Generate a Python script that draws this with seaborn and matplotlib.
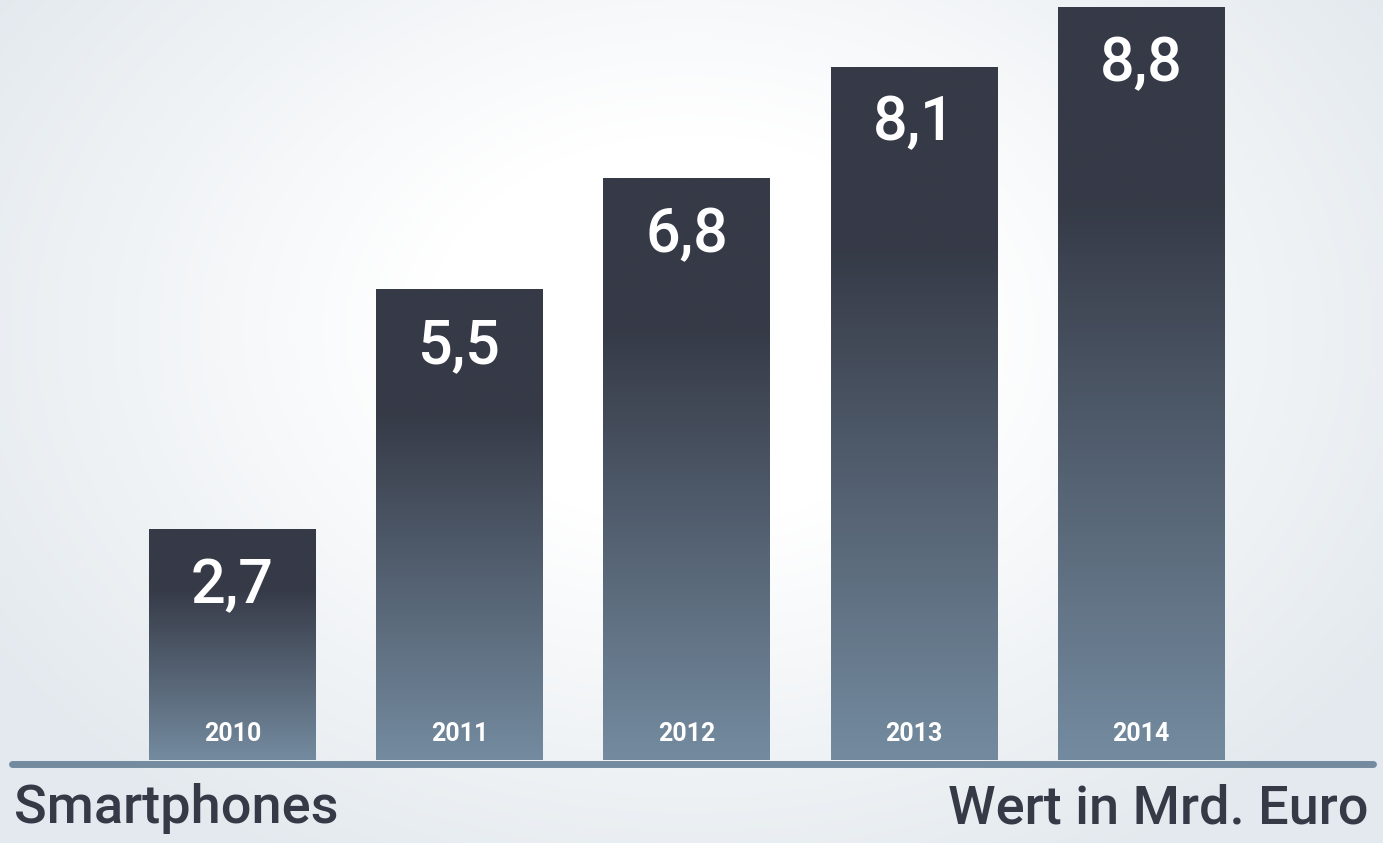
import numpy as np
import pandas as pd
import seaborn as sns
import matplotlib
matplotlib.use('Agg')
import matplotlib.pyplot as plt
from matplotlib.colors import LinearSegmentedColormap

# data
years = ["2010", "2011", "2012", "2013", "2014"]
values = [2.7, 5.5, 6.8, 8.1, 8.8]
value_labels = ["2,7", "5,5", "6,8", "8,1", "8,8"]

DARK = "#363a47"
LIGHT = "#748b9f"

sns.set_theme(style="white")
plt.rcParams['font.family'] = ['Roboto', 'DejaVu Sans']

W, H = 1383, 843
fig = plt.figure(figsize=(W / 100, H / 100), dpi=100)

# radial background
bg = fig.add_axes([0, 0, 1, 1], zorder=-5)
yy, xx = np.mgrid[0:H, 0:W]
r = np.sqrt(((xx - 690) / 760.0) ** 2 + ((yy - 330) / 560.0) ** 2)
r = np.clip((r - 0.35) / 0.75, 0, 1)
c0 = np.array([1.0, 1.0, 1.0])
c1 = np.array([0xe3, 0xe9, 0xee]) / 255
img = c0 + (c1 - c0) * r[..., None]
bg.imshow(img, extent=[0, W, H, 0], aspect='auto')
bg.set_axis_off()

# main axes
px_unit = 85.6
x0_px = 232.5
step = 227.2
bottom_px = 760
ax = fig.add_axes([0, (H - bottom_px) / H, 1, bottom_px / H])
ax.patch.set_alpha(0)
df = pd.DataFrame({"year": years, "value": values})
sns.barplot(data=df, x="year", y="value", ax=ax, width=0.735, color=DARK)
ax.set_xlim(-x0_px / step, (W - x0_px) / step)
ax.set_ylim(0, bottom_px / px_unit)
ax.set_axis_off()

cmap = LinearSegmentedColormap.from_list("bar", [(0, LIGHT), (0.74, DARK), (1, DARK)])
grad = np.linspace(0, 1, 256).reshape(-1, 1)
for p, lab, yr in zip(ax.patches, value_labels, years):
    x, w, h = p.get_x(), p.get_width(), p.get_height()
    im = ax.imshow(grad, extent=[x, x + w, 0, h], origin='lower', cmap=cmap,
                   aspect='auto', zorder=2)
    im.set_clip_path(p)
    p.set_facecolor('none')
    p.set_edgecolor('none')
    cx = x + w / 2
    ax.text(cx, h - 57 / px_unit, lab, ha='center', va='center', color='white',
            fontsize=44, fontweight='medium', zorder=3)
    ax.text(cx, 26 / px_unit, yr, ha='center', va='center', color='white',
            fontsize=18, fontweight='bold', zorder=3)

ax.set_xlim(-x0_px / step, (W - x0_px) / step)
ax.set_ylim(0, bottom_px / px_unit)

# baseline
ax.axhline(-4 / px_unit, xmin=12 / W, xmax=1373 / W, color=LIGHT, lw=5,
           solid_capstyle='round', clip_on=False, zorder=4)

fig.text(14 / W, 1 - 823 / H, "Smartphones", ha='left', va='baseline',
         fontsize=39, fontweight='medium', color=DARK)
fig.text(1369 / W, 1 - 823 / H, "Wert in Mrd. Euro", ha='right', va='baseline',
         fontsize=39, fontweight='medium', color=DARK)

fig.savefig("out.png", dpi=100)
